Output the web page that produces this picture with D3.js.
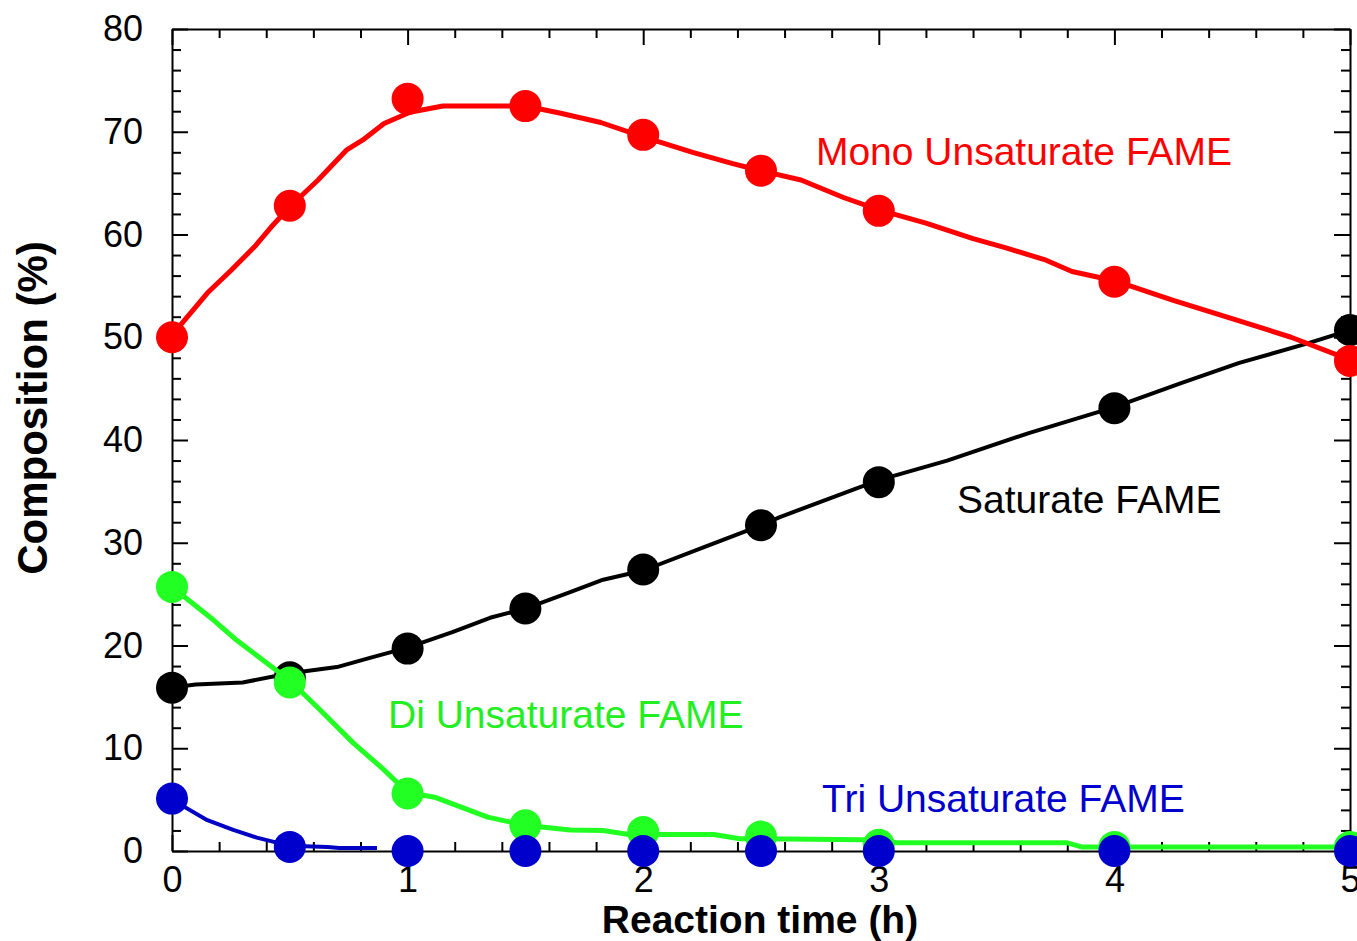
<!DOCTYPE html>
<html>
<head>
<meta charset="utf-8">
<script src="https://cdn.jsdelivr.net/npm/d3@7"></script>
<style>
  body { margin: 0; background: #fff; }
  svg { display: block; font-family: "Liberation Sans", Arial, sans-serif; }
  .axis path, .axis line { stroke: #000; stroke-width: 2px; }
  .axis text { font-size: 36px; fill: #000; }
</style>
</head>
<body>
<svg id="chart" width="1357" height="941"></svg>
<script>
// measured points (time in h, composition in %)
var timeH = [0, 0.5, 1, 1.5, 2, 2.5, 3, 4, 5];
var monoPts = [50, 62.8, 73.2, 72.5, 69.7, 66.2, 62.3, 55.4, 47.7];
var satPts = [15.9, 16.9, 19.7, 23.6, 27.4, 31.7, 35.9, 43.1, 50.7];
var diPts = [25.7, 16.4, 5.6, 2.5, 1.85, 1.4, 0.6, 0.4, 0.4];
var triPts = [5.1, 0.4, 0, 0, 0, 0, 0, 0, 0];

// smoothed curves drawn through the points
var monoFit = [[0,50.2],[0.15,54.3],[0.25,56.5],[0.35,58.8],[0.42,60.7],[0.5,62.7],[0.62,65.3],[0.74,68.2],
  [0.81,69.2],[0.9,70.8],[1.01,71.9],[1.15,72.5],[1.5,72.5],[1.65,71.8],[1.82,70.9],[2.0,69.5],[2.21,68.0],
  [2.38,66.9],[2.5,66.2],[2.67,65.3],[2.85,63.6],[3.0,62.4],[3.2,61.1],[3.4,59.6],[3.54,58.7],[3.71,57.5],
  [3.82,56.4],[4.0,55.5],[4.25,53.6],[4.53,51.6],[4.75,50.0],[5,47.8]];
var satFit = [[0,15.9],[0.1,16.2],[0.3,16.4],[0.5,17.3],[0.7,17.9],[0.84,18.8],[1.0,19.8],[1.19,21.3],
  [1.35,22.7],[1.5,23.6],[1.69,25.2],[1.83,26.4],[2.0,27.3],[2.25,29.5],[2.5,31.7],[2.58,32.5],[3.0,36.1],
  [3.29,38.0],[3.64,40.7],[4.0,43.2],[4.28,45.5],[4.53,47.5],[4.82,49.4],[5,50.7]];
var diFit = [[0,25.7],[0.175,22.5],[0.275,20.5],[0.5,16.6],[0.63,13.7],[0.77,10.5],[0.9,7.9],[1.0,5.7],
  [1.12,5.2],[1.34,3.3],[1.5,2.5],[1.69,2.05],[1.83,2.0],[1.94,1.6],[2.3,1.6],[2.41,1.2],[2.93,1.1],
  [3.08,0.8],[3.8,0.8],[3.86,0.4],[5,0.4]];
var triFit = [[0,5.0],[0.15,3.0],[0.26,2.05],[0.36,1.3],[0.5,0.5],[0.66,0.4],[0.71,0.3],[0.87,0.3]];

var xMajor = [0, 1, 2, 3, 4, 5];
var yMajor = [0, 10, 20, 30, 40, 50, 60, 70, 80];

var seriesNames = ["Saturate FAME", "Mono Unsaturate FAME", "Di Unsaturate FAME", "Tri Unsaturate FAME"];

//////////////////////////////////////////////////////////////////////////////

var svgSize = { left: 172, right: 1350, top: 29, bottom: 851 };

var svg = d3.select("#chart");

var xScale = d3.scaleLinear().domain([0, 5]).range([svgSize.left, svgSize.right]);
var yScale = d3.scaleLinear().domain([0, 80]).range([svgSize.bottom, svgSize.top]);

var xMinor = d3.range(0, 5.001, 0.2).filter(function(d) { return Math.abs(d - Math.round(d)) > 1e-6; });
var yMinor = d3.range(0, 80.001, 2).filter(function(d) { return d % 10 !== 0; });

function frameAxis(axisFn, scale, major, minor, transform, labels, pad) {
  var g = svg.append("g").attr("class", "axis").attr("transform", transform);
  g.call(axisFn(scale).tickValues(major).tickSize(-16).tickSizeOuter(0).tickPadding(pad)
    .tickFormat(labels ? d3.format("d") : ""));
  svg.append("g").attr("class", "axis").attr("transform", transform)
    .call(axisFn(scale).tickValues(minor).tickSize(-9).tickSizeOuter(0).tickFormat(""))
    .select(".domain").remove();
  return g;
}

frameAxis(d3.axisBottom, xScale, xMajor, xMinor, "translate(0," + svgSize.bottom + ")", true, 15);
frameAxis(d3.axisTop, xScale, xMajor, xMinor, "translate(0," + svgSize.top + ")", false, 0);
frameAxis(d3.axisLeft, yScale, yMajor, yMinor, "translate(" + svgSize.left + ",0)", true, 29);
frameAxis(d3.axisRight, yScale, yMajor, yMinor, "translate(" + svgSize.right + ",0)", false, 0);

// curves and markers, drawn in the stacking order of the original
var series = [
  { fit: satFit, pts: satPts, line: "#000000", dot: "#000000", width: 4 },
  { fit: monoFit, pts: monoPts, line: "#ff0000", dot: "#ff0000", width: 5 },
  { fit: diFit, pts: diPts, line: "#22ff22", dot: "#22ff22", width: 5 },
  { fit: triFit, pts: triPts, line: "#0000c4", dot: "#0000cc", width: 4 }
];

var line = d3.line()
  .x(function(d) { return xScale(d[0]); })
  .y(function(d) { return yScale(d[1]); });

series.forEach(function(s) {
  svg.append("path")
    .attr("d", line(s.fit))
    .attr("fill", "none")
    .attr("stroke", s.line)
    .attr("stroke-width", s.width)
    .attr("stroke-linejoin", "round");

  svg.append("g").selectAll("circle")
    .data(s.pts)
    .enter()
    .append("circle")
    .attr("cx", function(d, i) { return xScale(timeH[i]); })
    .attr("cy", function(d) { return yScale(d); })
    .attr("r", 16)
    .attr("fill", s.dot);
});

// series labels, anchored in data units
var labelAt = [[3.332, 32.9], [2.733, 66.8], [0.917, 12.0], [2.759, 3.8]];
var labelColor = ["#000000", "#ff0000", "#22ee22", "#0000cc"];

svg.append("g").selectAll("text")
  .data(seriesNames)
  .enter()
  .append("text")
  .attr("x", function(d, i) { return xScale(labelAt[i][0]); })
  .attr("y", function(d, i) { return yScale(labelAt[i][1]); })
  .attr("fill", function(d, i) { return labelColor[i]; })
  .style("font-size", "39px")
  .text(function(d) { return d; });

// text label for the x axis
svg.append("text")
  .attr("x", (svgSize.left + svgSize.right) / 2 - 1)
  .attr("y", 933)
  .style("text-anchor", "middle")
  .style("font-size", "39px")
  .style("font-weight", "bold")
  .text("Reaction time (h)");

// text label for the y axis
svg.append("text")
  .attr("transform", "translate(47," + ((svgSize.top + svgSize.bottom) / 2 - 32) + ") rotate(-90)")
  .style("text-anchor", "middle")
  .style("font-size", "42px")
  .style("font-weight", "bold")
  .text("Composition (%)");
</script>
</body>
</html>
